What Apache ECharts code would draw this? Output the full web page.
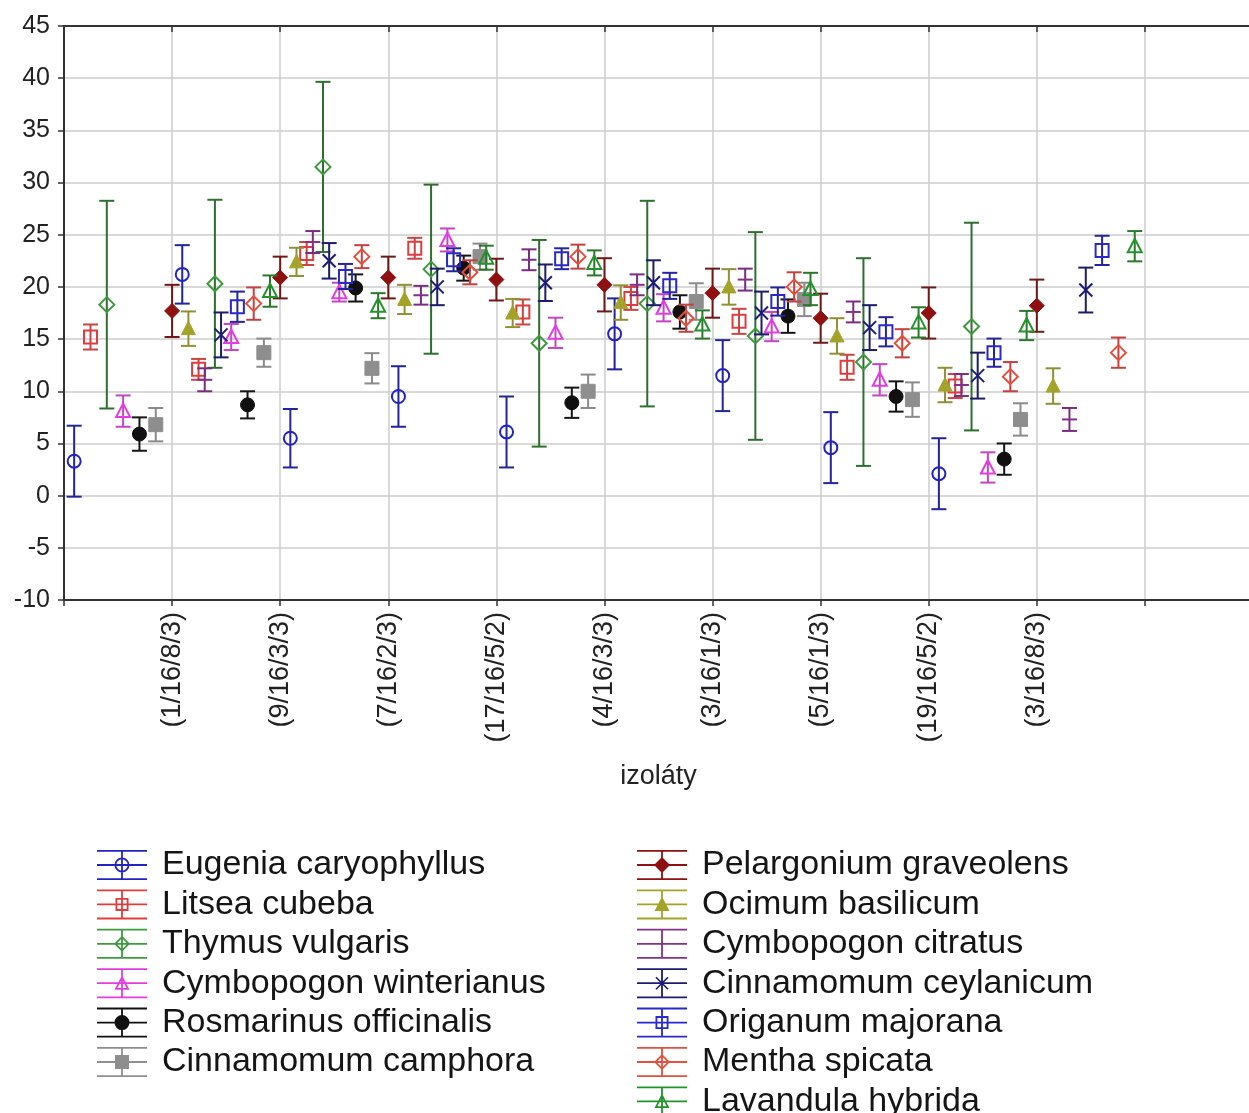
<!DOCTYPE html>
<html>
<head>
<meta charset="utf-8">
<script src="https://cdn.jsdelivr.net/npm/echarts@6/dist/echarts.min.js"></script>
<style>
  html, body { margin: 0; padding: 0; background: #ffffff; }
  #chart { width: 1249px; height: 1113px; }
</style>
</head>
<body>
<div id="chart"></div>
<script>
// Isolates on the x axis
const isolates = ['(1/16/8/3)', '(9/16/3/3)', '(7/16/2/3)', '(17/16/5/2)', '(4/16/3/3)',
                  '(3/16/1/3)', '(5/16/1/3)', '(19/16/5/2)', '(3/16/8/3)'];

// Essential oils (legend order)
const oils = ['Eugenia caryophyllus', 'Litsea cubeba', 'Thymus vulgaris', 'Cymbopogon winterianus',
              'Rosmarinus officinalis', 'Cinnamomum camphora', 'Pelargonium graveolens', 'Ocimum basilicum',
              'Cymbopogon citratus', 'Cinnamomum ceylanicum', 'Origanum majorana', 'Mentha spicata',
              'Lavandula hybrida'];

// Means per isolate and half-widths of the error bars
const eugeniaMean   = [3.3, 21.2, 5.5, 9.5, 6.1, 15.5, 11.5, 4.6, 2.1];
const eugeniaErr    = [3.4, 2.8, 2.8, 2.9, 3.4, 3.4, 3.4, 3.4, 3.4];
const litseaMean    = [15.2, 12.1, 23.2, 23.7, 17.6, 18.9, 16.7, 12.3, 10.5];
const litseaErr     = [1.2, 1.0, 1.1, 1.0, 1.2, 1.1, 1.2, 1.2, 1.15];
const thymusMean    = [18.3, 20.3, 31.5, 21.7, 14.6, 18.4, 15.3, 12.8, 16.2];
const thymusErr     = [9.95, 8.05, 8.15, 8.1, 9.9, 9.85, 9.95, 9.95, 9.95];
const cwinterMean   = [8.1, 15.2, 19.5, 24.5, 15.6, 18.0, 16.2, 11.1, 2.7];
const cwinterErr    = [1.5, 1.25, 0.9, 1.1, 1.45, 1.3, 1.4, 1.5, 1.45];
const rosmarinMean  = [5.9, 8.7, 19.9, 21.8, 8.9, 17.6, 17.2, 9.5, 3.5];
const rosmarinErr   = [1.6, 1.3, 1.3, 1.2, 1.45, 1.6, 1.6, 1.45, 1.5];
const camphoraMean  = [6.8, 13.7, 12.2, 22.9, 10.0, 18.6, 18.8, 9.2, 7.3];
const camphoraErr   = [1.6, 1.35, 1.45, 1.25, 1.6, 1.75, 1.6, 1.65, 1.55];
const pelargMean    = [17.7, 20.9, 20.9, 20.7, 20.2, 19.4, 17.0, 17.5, 18.2];
const pelargErr     = [2.5, 2.0, 2.0, 2.0, 2.55, 2.35, 2.35, 2.45, 2.5];
const ocimumMean    = [16.0, 22.4, 18.8, 17.5, 18.5, 20.0, 15.3, 10.6, 10.5];
const ocimumErr     = [1.65, 1.35, 1.4, 1.35, 1.65, 1.7, 1.7, 1.65, 1.7];
const ccitratMean   = [11.1, 24.3, 19.2, 22.6, 20.2, 20.7, 17.6, 10.6, 7.3];
const ccitratErr    = [1.1, 1.05, 0.9, 1.0, 1.0, 1.05, 1.0, 1.05, 1.1];
const ceylanMean    = [15.4, 22.5, 20.0, 20.4, 20.4, 17.5, 16.1, 11.5, 19.7];
const ceylanErr     = [2.15, 1.7, 1.75, 1.75, 2.15, 2.05, 2.15, 2.2, 2.15];
const origanumMean  = [18.1, 21.0, 22.6, 22.7, 20.1, 18.6, 15.7, 13.7, 23.5];
const origanumErr   = [1.45, 1.2, 1.1, 1.0, 1.25, 1.35, 1.4, 1.35, 1.4];
const menthaMean    = [18.4, 22.9, 21.4, 22.9, 17.0, 20.0, 14.6, 11.4, 13.7];
const menthaErr     = [1.55, 1.1, 1.15, 1.15, 1.3, 1.4, 1.35, 1.4, 1.45];
const lavandulaMean = [19.6, 18.2, 22.8, 22.3, 16.4, 19.8, 16.6, 16.3, 23.9];
const lavandulaErr  = [1.5, 1.2, 1.15, 1.2, 1.35, 1.55, 1.45, 1.4, 1.45];

// Y axis ticks
const yTicks = { min: -10, max: 45, step: 5 };

const means = [eugeniaMean, litseaMean, thymusMean, cwinterMean, rosmarinMean, camphoraMean,
               pelargMean, ocimumMean, ccitratMean, ceylanMean, origanumMean, menthaMean, lavandulaMean];
const errs  = [eugeniaErr, litseaErr, thymusErr, cwinterErr, rosmarinErr, camphoraErr,
               pelargErr, ocimumErr, ccitratErr, ceylanErr, origanumErr, menthaErr, lavandulaErr];

// Look of each oil: marker colour, whisker colour, marker kind
const looks = [
  { color: '#2323c4', bar: '#23239a', marker: 'circle' },
  { color: '#e03c3c', bar: '#c94444', marker: 'square' },
  { color: '#3f9a3f', bar: '#2e6e2e', marker: 'diamond' },
  { color: '#e23ce2', bar: '#c445c4', marker: 'triangle' },
  { color: '#101010', bar: '#151515', marker: 'dot' },
  { color: '#8e8e8e', bar: '#8a8a8a', marker: 'fsquare' },
  { color: '#8e1010', bar: '#6e1818', marker: 'fdiamond' },
  { color: '#a3a32a', bar: '#8f8f34', marker: 'ftriangle' },
  { color: '#84308a', bar: '#7a2c80', marker: 'dash' },
  { color: '#1c1c78', bar: '#1c1c6a', marker: 'cross' },
  { color: '#2828cc', bar: '#24249e', marker: 'square' },
  { color: '#e4503c', bar: '#c44040', marker: 'diamond' },
  { color: '#23932b', bar: '#2a782a', marker: 'triangle' }
];

// Horizontal shift of each oil inside an isolate (axis units)
const SPREAD = 0.151;
const LW = 2;

function markerElement(look, cx, cy) {
  const hollow = { fill: 'none', stroke: look.color, lineWidth: LW };
  const solid = { fill: look.color, stroke: look.color, lineWidth: 1 };
  switch (look.marker) {
    case 'circle':
      return { type: 'circle', shape: { cx: cx, cy: cy, r: 6.5 }, style: hollow };
    case 'square':
      return { type: 'rect', shape: { x: cx - 6.5, y: cy - 6.5, width: 13, height: 13 }, style: hollow };
    case 'diamond':
      return { type: 'polygon', shape: { points: [[cx, cy - 7.5], [cx + 7.5, cy], [cx, cy + 7.5], [cx - 7.5, cy]] }, style: hollow };
    case 'triangle':
      return { type: 'polygon', shape: { points: [[cx, cy - 7.5], [cx + 7, cy + 6], [cx - 7, cy + 6]] }, style: hollow };
    case 'dot':
      return { type: 'circle', shape: { cx: cx, cy: cy, r: 7 }, style: solid };
    case 'fsquare':
      return { type: 'rect', shape: { x: cx - 7, y: cy - 7, width: 14, height: 14 }, style: solid };
    case 'fdiamond':
      return { type: 'polygon', shape: { points: [[cx, cy - 7.5], [cx + 7.5, cy], [cx, cy + 7.5], [cx - 7.5, cy]] }, style: solid };
    case 'ftriangle':
      return { type: 'polygon', shape: { points: [[cx, cy - 7.5], [cx + 7, cy + 6], [cx - 7, cy + 6]] }, style: solid };
    case 'dash':
      return { type: 'line', shape: { x1: cx - 7.5, y1: cy, x2: cx + 7.5, y2: cy }, style: { stroke: look.color, lineWidth: LW } };
    case 'cross':
      return { type: 'group', children: [
        { type: 'line', shape: { x1: cx - 6.5, y1: cy - 6.5, x2: cx + 6.5, y2: cy + 6.5 }, style: { stroke: look.color, lineWidth: LW } },
        { type: 'line', shape: { x1: cx + 6.5, y1: cy - 6.5, x2: cx - 6.5, y2: cy + 6.5 }, style: { stroke: look.color, lineWidth: LW } }
      ] };
  }
  return null;
}

function errorBarRenderer(look) {
  return function (params, api) {
    const x = api.value(0), m = api.value(1), e = api.value(2);
    const c = api.coord([x, m]);
    const top = api.coord([x, m + e])[1];
    const bot = api.coord([x, m - e])[1];
    const cap = 7.5;
    const ls = { stroke: look.bar, lineWidth: LW };
    const children = [
      { type: 'line', shape: { x1: c[0], y1: top, x2: c[0], y2: bot }, style: ls },
      { type: 'line', shape: { x1: c[0] - cap, y1: top, x2: c[0] + cap, y2: top }, style: ls },
      { type: 'line', shape: { x1: c[0] - cap, y1: bot, x2: c[0] + cap, y2: bot }, style: ls }
    ];
    const mk = markerElement(look, c[0], c[1]);
    if (mk) children.push(mk);
    return { type: 'group', children: children };
  };
}

// Legend icons: whisker frame (three bars + stem) with the oil's marker, 50x30 box
const FRAME = 'M0 0H50V1.8H0Z M0 14.1H50V15.9H0Z M0 28.2H50V30H0Z M24.1 0H25.9V30H24.1Z';
const ICON_MARKS = {
  circle: 'M32.5 15A7.5 7.5 0 1 1 17.5 15A7.5 7.5 0 1 1 32.5 15Z M30.7 15A5.7 5.7 0 1 0 19.3 15A5.7 5.7 0 1 0 30.7 15Z',
  square: 'M18.5 8.5H31.5V21.5H18.5Z M20.3 10.3V19.7H29.7V10.3Z',
  diamond: 'M25 7L33 15L25 23L17 15Z M25 9.5L19.5 15L25 20.5L30.5 15Z',
  triangle: 'M25 7L32.5 21.5L17.5 21.5Z M25 10.8L20.4 19.8L29.6 19.8Z',
  dot: 'M32.5 15A7.5 7.5 0 1 1 17.5 15A7.5 7.5 0 1 1 32.5 15Z',
  fsquare: 'M18 8H32V22H18Z',
  fdiamond: 'M25 7L33 15L25 23L17 15Z',
  ftriangle: 'M25 7L32.5 21.5L17.5 21.5Z',
  dash: '',
  cross: 'M19.57 8.43L31.57 20.43L30.43 21.57L18.43 9.57Z M31.57 9.57L19.57 21.57L18.43 20.43L30.43 8.43Z'
};

function legendItems(from, to) {
  const items = [];
  for (let j = from; j < to; j++) {
    items.push({
      name: oils[j],
      icon: 'path://' + FRAME + ' ' + ICON_MARKS[looks[j].marker],
      itemStyle: { color: looks[j].color, borderWidth: 0 }
    });
  }
  return items;
}

const FONT = '"Liberation Sans", Arial, sans-serif';

const series = oils.map(function (name, j) {
  return {
    name: name,
    type: 'custom',
    renderItem: errorBarRenderer(looks[j]),
    itemStyle: { color: looks[j].color },
    dimensions: ['x', 'mean', 'err'],
    encode: { x: 0, y: 1 },
    data: isolates.map(function (_, i) {
      return [i + 1 + (j - 6) * SPREAD, means[j][i], errs[j][i]];
    }),
    z: 3
  };
});

const legendBase = {
  orient: 'vertical',
  padding: 0,
  height: 400,
  itemWidth: 50,
  itemHeight: 30,
  itemGap: 5.4,
  selectedMode: false,
  itemStyle: { borderWidth: 0 },
  textStyle: { fontFamily: FONT, fontSize: 34, color: '#151515', padding: [0, 0, 0, 10] }
};

const chart = echarts.init(document.getElementById('chart'), null, { renderer: 'canvas' });
chart.setOption({
  animation: false,
  backgroundColor: '#ffffff',
  grid: {
    left: 64, top: 26, width: 1189, height: 574,
    outerBoundsMode: 'none', containLabel: false,
    show: true, borderColor: '#333333', borderWidth: 2, backgroundColor: 'transparent'
  },
  legend: [
    Object.assign({}, legendBase, { left: 97, top: 848, data: legendItems(0, 6) }),
    Object.assign({}, legendBase, { left: 637, top: 848, data: legendItems(6, 13) })
  ],
  xAxis: [
    {
      type: 'value', min: 0, max: isolates.length + 2, interval: 1,
      name: 'izoláty', nameLocation: 'middle', nameGap: 163,
      nameTextStyle: { fontFamily: FONT, fontSize: 27, color: '#222222' },
      axisLine: { show: true, onZero: false, lineStyle: { color: '#333333', width: 2 } },
      axisTick: { show: true, length: 6, lineStyle: { color: '#333333', width: 1.5 } },
      axisLabel: {
        rotate: 90, margin: 12, fontFamily: FONT, fontSize: 27, color: '#222222',
        showMinLabel: true, showMaxLabel: true,
        formatter: function (v) { return (v >= 1 && v <= isolates.length) ? isolates[v - 1] : ''; }
      },
      splitLine: { show: true, lineStyle: { color: '#cdcdcd', width: 1.5 } }
    },
    {
      type: 'value', position: 'top', min: 0, max: isolates.length + 2, interval: 1,
      axisLine: { show: true, onZero: false, lineStyle: { color: '#333333', width: 2 } },
      axisTick: { show: true, inside: true, length: 6, lineStyle: { color: '#333333', width: 1.5 } },
      axisLabel: { show: false },
      splitLine: { show: false }
    }
  ],
  yAxis: {
    type: 'value', min: yTicks.min, max: yTicks.max, interval: yTicks.step,
    axisLine: { show: true, onZero: false, lineStyle: { color: '#333333', width: 2 } },
    axisTick: { show: true, length: 6, lineStyle: { color: '#333333', width: 1.5 } },
    axisLabel: { margin: 14, fontFamily: FONT, fontSize: 25, color: '#222222' },
    splitLine: { show: true, lineStyle: { color: '#cdcdcd', width: 1.5 } }
  },
  series: series
});
</script>
</body>
</html>
